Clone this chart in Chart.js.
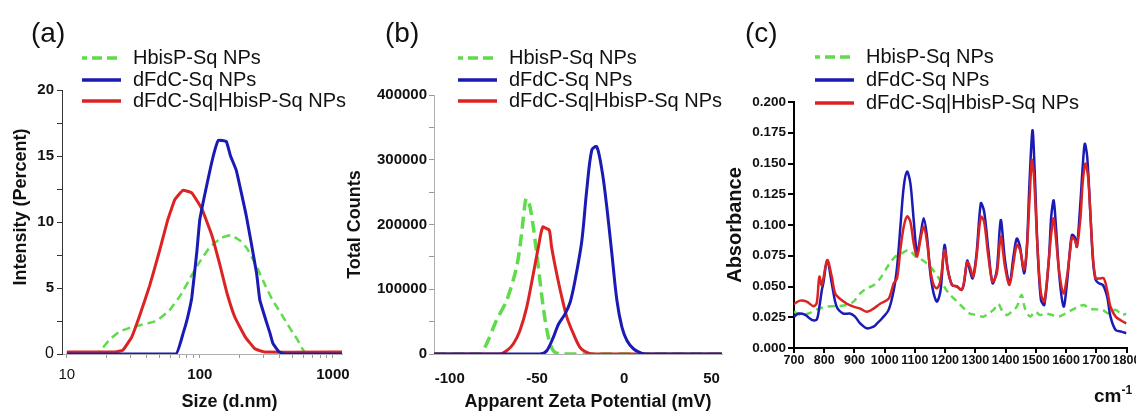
<!DOCTYPE html>
<html><head><meta charset="utf-8">
<script src="https://cdn.jsdelivr.net/npm/chart.js@4.4.1/dist/chart.umd.min.js"></script>
<style>
html,body{margin:0;padding:0;background:#fff;}
body{width:1136px;height:413px;position:relative;overflow:hidden;font-family:"Liberation Sans",Arial,sans-serif;}
canvas{position:absolute;top:0;}
.pl{position:absolute;font-size:28px;line-height:28px;color:#111;top:19px;font-family:"Liberation Sans",Arial,sans-serif;}
#cm{position:absolute;left:1094px;top:386px;font-size:19px;font-weight:bold;line-height:19px;color:#111;}
#cm sup{font-size:12px;vertical-align:8px;line-height:0;}
</style></head><body>
<canvas id="ca" width="370" height="413" style="left:0px"></canvas>
<canvas id="cb" width="400" height="413" style="left:340px"></canvas>
<canvas id="cc" width="460" height="413" style="left:700px"></canvas>
<div class="pl" style="left:31px">(a)</div>
<div class="pl" style="left:385px">(b)</div>
<div class="pl" style="left:745px">(c)</div>
<div id="cm">cm<sup>-1</sup></div>
<script>
// ---------- data ----------
const seriesNames = ['HbisP-Sq NPs', 'dFdC-Sq NPs', 'dFdC-Sq|HbisP-Sq NPs'];

// (a) size distribution (Size in d.nm vs Intensity %)
const sizeHbisX = [10,16.5,18,21,25,30,36,47,59,72,85,100,119,145,170,200,226,268,310,355,400,447,500,540,580,620,650,1170];
const sizeHbisY = [0,0,0.3,1.1,1.7,2.0,2.2,2.5,3.3,4.5,5.8,7.0,8.1,8.8,9.0,8.6,8.0,6.6,5.2,4.0,3.2,2.4,1.6,1.1,0.5,0.1,0,0];
const sizeDfdcX = [10,66,75,81,87,95,100,119,130,138,158,170,188,224,267,282,317,336,354,390,430,1170];
const sizeDfdcY = [0,0,1.6,2.8,4.3,7.8,10.2,13.9,15.5,16.2,16.1,15.0,13.9,10.4,6.1,4.1,2.4,1.6,0.8,0.2,0,0];
const sizeMixX = [10,23,26.4,30.8,35.4,42,50,57.5,64.9,74.5,87,103.5,123,141,160,183,219,259,308,1170];
const sizeMixY = [0.15,0.15,0.3,1.3,2.95,5.2,7.9,10.2,11.7,12.4,12.2,11.0,9.0,6.8,4.6,2.8,1.3,0.4,0.15,0.15];
const sizeTicks = [10,20,30,40,50,60,70,80,90,100,200,300,400,500,600,700,800,900,1000];
const sizeLabels = [10,100,1000];

// (b) zeta potential (mV vs total counts)
const zetaHbisX = [-109,-82.8,-78.9,-73.2,-67.4,-61.7,-58.8,-56.3,-54.4,-52.1,-49.2,-46.4,-43.5,-40.6,-36.8,56];
const zetaHbisY = [0,0,15500,52000,82600,134000,186000,240000,232000,196000,134000,72000,26000,5000,0,0];
const zetaDfdcX = [-109,-48.3,-44.4,-40.6,-37.7,-33.9,-31.0,-28.2,-24.3,-21.5,-18.6,-15.7,-12.5,-10.0,-7.1,-4.2,-1.3,1.6,5.4,10.2,14.9,56];
const zetaDfdcY = [0,0,5000,26000,46000,62000,80000,113500,175000,253000,315000,320000,279000,227000,155000,82600,41000,20600,7700,1000,0,0];
const zetaMixX = [-109,-71.3,-67.4,-63.6,-59.8,-55.9,-52.1,-49.2,-46.7,-44.4,-42.9,-41.6,-38.7,-35.8,-32.9,-29.1,-25.3,-21.5,-17.6,56];
const zetaMixY = [0,0,5000,15500,36000,72000,124000,165000,196000,193500,191000,165000,124000,88000,57000,31000,10000,2600,0,0];
const zetaTicks = [-100,-50,0,50];

// (c) IR spectra (cm-1 vs absorbance)
const irHbisX = [700,720,748,775,808,841,875,897,919,941,963,985,1013,1035,1057,1080,1102,1124,1146,1168,1190,1212,1240,1267,1282,1304,1326,1343,1360,1376,1387,1404,1420,1437,1453,1464,1481,1498,1514,1531,1554,1576,1598,1620,1642,1659,1675,1697,1720,1742,1764,1786,1800];
const irHbisY = [0.0295,0.027,0.028,0.0314,0.0336,0.034,0.035,0.0377,0.0445,0.0485,0.051,0.0566,0.0675,0.0743,0.077,0.0797,0.0743,0.0715,0.0675,0.0607,0.0526,0.0444,0.0377,0.031,0.028,0.0268,0.0255,0.028,0.031,0.0358,0.031,0.0268,0.0295,0.0336,0.0431,0.0322,0.0255,0.0295,0.0268,0.028,0.0268,0.0255,0.028,0.031,0.0336,0.035,0.0322,0.0314,0.031,0.028,0.031,0.0268,0.028];
const irDfdcX = [700,715,737,759,775,784,792,797,810,825,841,863,885,902,919,941,963,975,991,1013,1030,1041,1052,1063,1074,1085,1096,1107,1118,1129,1140,1151,1162,1173,1185,1198,1209,1223,1240,1254,1262,1273,1282,1291,1304,1318,1329,1343,1357,1371,1384,1398,1413,1426,1437,1448,1461,1470,1479,1489,1496,1506,1517,1528,1543,1551,1559,1566,1578,1592,1603,1614,1620,1629,1636,1648,1655,1662,1670,1681,1689,1698,1709,1722,1736,1747,1764,1783,1800];
const irDfdcY = [0.0255,0.028,0.027,0.0228,0.023,0.0336,0.047,0.0526,0.0715,0.0526,0.0336,0.028,0.028,0.0255,0.020,0.016,0.0173,0.020,0.024,0.031,0.047,0.066,0.0986,0.131,0.1434,0.134,0.104,0.077,0.0905,0.1054,0.0905,0.0607,0.0444,0.0377,0.047,0.0837,0.0634,0.0512,0.0499,0.0472,0.052,0.071,0.063,0.0566,0.077,0.1176,0.111,0.0797,0.0526,0.0634,0.104,0.0715,0.0526,0.0743,0.089,0.082,0.0607,0.0797,0.134,0.177,0.145,0.0797,0.039,0.035,0.0715,0.1068,0.120,0.101,0.058,0.0336,0.0526,0.0824,0.092,0.090,0.0824,0.120,0.147,0.166,0.1555,0.1068,0.0715,0.0553,0.0526,0.0512,0.0417,0.0255,0.0146,0.0133,0.012];
const irMixX = [700,720,742,764,775,784,792,810,825,836,852,875,897,919,941,963,985,1013,1030,1041,1052,1063,1074,1085,1096,1107,1118,1129,1140,1151,1162,1173,1185,1198,1209,1223,1240,1254,1262,1273,1282,1293,1304,1318,1329,1343,1357,1371,1384,1398,1413,1426,1437,1448,1461,1470,1479,1487,1494,1506,1517,1528,1543,1551,1559,1566,1578,1592,1603,1614,1620,1629,1636,1648,1655,1664,1673,1681,1689,1698,1711,1725,1736,1747,1764,1783,1800];
const irMixY = [0.0358,0.0385,0.0377,0.034,0.0363,0.058,0.051,0.0715,0.058,0.0445,0.040,0.036,0.0336,0.032,0.0295,0.032,0.036,0.040,0.0526,0.0566,0.080,0.0986,0.107,0.1027,0.085,0.0743,0.0878,0.0986,0.0864,0.0634,0.0512,0.0485,0.0553,0.0797,0.0634,0.0512,0.0499,0.0472,0.053,0.070,0.066,0.058,0.0743,0.1068,0.1027,0.0743,0.054,0.0607,0.0905,0.066,0.0512,0.0688,0.0837,0.0797,0.0634,0.0797,0.120,0.1528,0.139,0.0797,0.0444,0.0377,0.0715,0.093,0.1054,0.0905,0.0607,0.0444,0.058,0.0797,0.090,0.0878,0.0824,0.1068,0.134,0.150,0.139,0.1068,0.0743,0.0566,0.0566,0.0566,0.047,0.0336,0.0255,0.0222,0.020];
const irTicksX = [700,800,900,1000,1100,1200,1300,1400,1500,1600,1700,1800];
const irTicksY = [0,0.025,0.05,0.075,0.1,0.125,0.15,0.175,0.2];

// ---------- style ----------
const GREEN = '#5fdb4b', BLUE = '#1a1ab4', RED = '#dc2323';
const FONT = '"Liberation Sans", Arial, sans-serif';
Chart.defaults.font.family = FONT;
Chart.defaults.color = '#111';

function pts(xs, ys) { return xs.map((x, i) => ({x: x, y: ys[i]})); }

const legendPlugin = {
  id: 'panelLegend',
  afterDraw(chart, args, o) {
    const ctx = chart.ctx;
    ctx.save();
    chart.data.datasets.forEach((ds, i) => {
      const y = o.rows[i];
      ctx.beginPath();
      ctx.lineWidth = 3.5;
      ctx.strokeStyle = ds.borderColor;
      if (ds.borderDash) { ctx.setLineDash([10, 5]); ctx.lineDashOffset = 5; } else { ctx.setLineDash([]); }
      ctx.moveTo(o.x, y); ctx.lineTo(o.x + 39, y); ctx.stroke();
      ctx.setLineDash([]);
      ctx.fillStyle = '#111';
      ctx.font = '20px ' + FONT;
      ctx.textBaseline = 'middle';
      ctx.textAlign = 'left';
      ctx.fillText(ds.label, o.x + 51, y);
    });
    ctx.restore();
  }
};

function ds(i, xs, ys, color, width, order, dash) {
  const d = {label: seriesNames[i], data: pts(xs, ys), borderColor: color, borderWidth: width, order: order, fill: false};
  if (dash) d.borderDash = dash;
  return d;
}

const common = {
  responsive: false, animation: false, devicePixelRatio: 1,
};

// (a)
new Chart(document.getElementById('ca'), {
  type: 'line',
  data: {datasets: [
    ds(0, sizeHbisX, sizeHbisY, GREEN, 2.5, 2, [8, 5]),
    ds(1, sizeDfdcX, sizeDfdcY, BLUE, 3, 0),
    ds(2, sizeMixX, sizeMixY, RED, 3, 1)
  ]},
  options: Object.assign({}, common, {
    layout: {padding: {left: 0, top: 90, right: 28, bottom: 0}},
    elements: {point: {radius: 0}, line: {tension: 0.1}},
    plugins: {legend: {display: false}, tooltip: {enabled: false}, panelLegend: {x: 82, rows: [58, 80, 101]}},
    scales: {
      x: {type: 'logarithmic', min: 9.2, max: 1170,
        afterBuildTicks: s => { s.ticks = sizeTicks.map(v => ({value: v})); },
        afterFit: s => { s.height = 59; },
        border: {display: true, color: '#b0b0b0', width: 1},
        grid: {display: true, drawOnChartArea: false, drawTicks: true, tickLength: 4, color: '#999'},
        ticks: {autoSkip: false, maxRotation: 0, minRotation: 0, padding: 8, color: '#111',
          callback: v => sizeLabels.includes(v) ? String(v) : '',
          font: c => ({size: 15, weight: (c.tick && c.tick.value === 10) ? 'normal' : 'bold'})},
        title: {display: true, text: '           Size (d.nm)', font: {size: 18, weight: 'bold'}, padding: {top: 0, bottom: 0}}
      },
      y: {type: 'linear', min: 0, max: 20,
        afterBuildTicks: s => { const t = []; for (let v = 0; v <= 20; v += 2.5) t.push({value: v}); s.ticks = t; },
        afterFit: s => { s.width = 62; },
        border: {display: true, color: '#333', width: 1},
        grid: {display: true, drawOnChartArea: false, drawTicks: true, tickLength: 5, color: '#333'},
        ticks: {padding: 3, color: '#111', callback: v => (v % 5 === 0) ? String(v) : '',
          font: c => ({size: (c.tick && c.tick.value === 0) ? 16 : 15, weight: (c.tick && c.tick.value === 0) ? 'normal' : 'bold'})},
        title: {display: true, text: '      Intensity (Percent)', font: {size: 18, weight: 'bold'}, padding: {top: 10, bottom: 0}}
      }
    }
  }),
  plugins: [legendPlugin]
});

// (b)
new Chart(document.getElementById('cb'), {
  type: 'line',
  data: {datasets: [
    ds(0, zetaHbisX, zetaHbisY, GREEN, 3.5, 2, [12, 6]),
    ds(1, zetaDfdcX, zetaDfdcY, BLUE, 3, 0),
    ds(2, zetaMixX, zetaMixY, RED, 3, 1)
  ]},
  options: Object.assign({}, common, {
    layout: {padding: {left: 0, top: 95, right: 18, bottom: 0}},
    elements: {point: {radius: 0}, line: {tension: 0.3}},
    plugins: {legend: {display: false}, tooltip: {enabled: false}, panelLegend: {x: 118, rows: [58, 80, 101]}},
    scales: {
      x: {type: 'linear', min: -109, max: 56,
        afterBuildTicks: s => { s.ticks = zetaTicks.map(v => ({value: v})); },
        afterFit: s => { s.height = 59; },
        border: {display: true, color: '#b0b0b0', width: 1},
        grid: {display: false},
        ticks: {autoSkip: false, maxRotation: 0, padding: 8, color: '#111', font: {size: 15, weight: 'bold'}},
        title: {display: true, text: '    Apparent Zeta Potential (mV)', font: {size: 18, weight: 'bold'}, padding: {top: 0, bottom: 0}}
      },
      y: {type: 'linear', min: 0, max: 400000,
        afterBuildTicks: s => { const t = []; for (let v = 0; v <= 400000; v += 50000) t.push({value: v}); s.ticks = t; },
        afterFit: s => { s.width = 94; },
        border: {display: true, color: '#b0b0b0', width: 1},
        grid: {display: true, drawOnChartArea: false, drawTicks: true, tickLength: 5, color: '#999'},
        ticks: {padding: 2, color: '#111', callback: v => (v % 100000 === 0) ? String(v) : '', font: {size: 15, weight: 'bold'}},
        title: {display: true, text: 'Total Counts', font: {size: 18, weight: 'bold'}, padding: {top: 4, bottom: 0}}
      }
    }
  }),
  plugins: [legendPlugin]
});

// (c)
new Chart(document.getElementById('cc'), {
  type: 'line',
  data: {datasets: [
    ds(0, irHbisX, irHbisY, GREEN, 2.5, 2, [7, 5]),
    ds(1, irDfdcX, irDfdcY, BLUE, 2.5, 1),
    ds(2, irMixX, irMixY, RED, 2.5, 0)
  ]},
  options: Object.assign({}, common, {
    layout: {padding: {left: 0, top: 102, right: 33.5, bottom: 0}},
    elements: {point: {radius: 0}, line: {tension: 0.3}},
    plugins: {legend: {display: false}, tooltip: {enabled: false}, panelLegend: {x: 115, rows: [57, 80, 103]}},
    scales: {
      x: {type: 'linear', min: 700, max: 1800,
        afterBuildTicks: s => { s.ticks = irTicksX.map(v => ({value: v})); },
        afterFit: s => { s.height = 65; },
        border: {display: true, color: '#000', width: 2},
        grid: {display: true, drawOnChartArea: false, drawTicks: true, tickLength: 5, color: '#000', lineWidth: 2},
        ticks: {autoSkip: false, maxRotation: 0, minRotation: 0, padding: 0, color: '#111', font: {size: 12.5, weight: 'bold'}, callback: v => String(v)},
        title: {display: false}
      },
      y: {type: 'linear', min: 0, max: 0.2,
        afterBuildTicks: s => { s.ticks = irTicksY.map(v => ({value: v})); },
        afterFit: s => { s.width = 94; },
        border: {display: true, color: '#000', width: 2},
        grid: {display: true, drawOnChartArea: false, drawTicks: true, tickLength: 6, color: '#000', lineWidth: 2},
        ticks: {padding: 2, color: '#111', font: {size: 13.5, weight: 'bold'}, callback: v => Number(v).toFixed(3)},
        title: {display: true, text: 'Absorbance', font: {size: 20, weight: 'bold'}, padding: {top: 23, bottom: 0}}
      }
    }
  }),
  plugins: [legendPlugin]
});
</script>
</body></html>
